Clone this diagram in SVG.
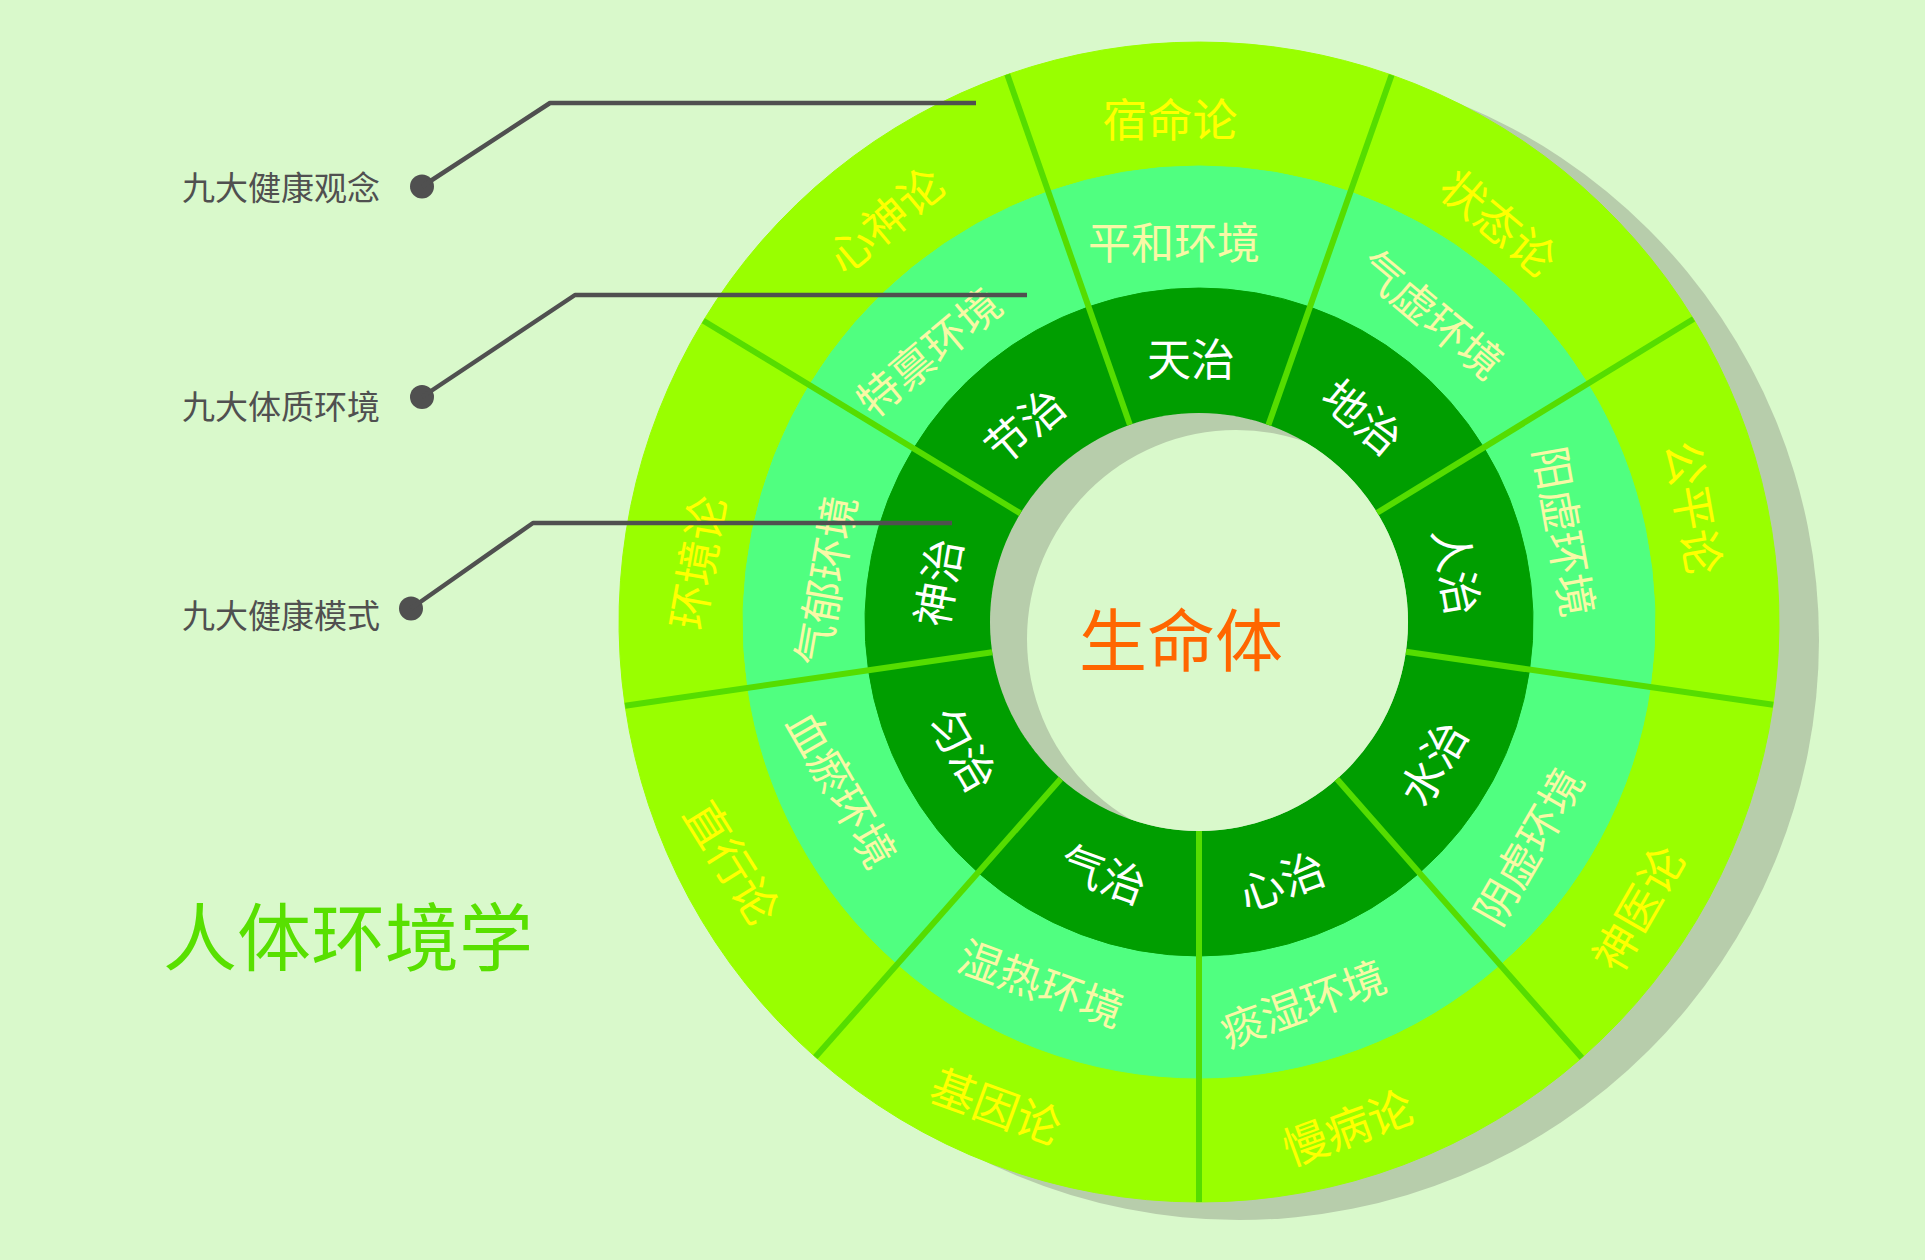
<svg xmlns="http://www.w3.org/2000/svg" width="1925" height="1260" viewBox="0 0 1925 1260">
<defs>
<style>
text{font-family:"Noto Sans CJK SC","Noto Sans",sans-serif;text-anchor:middle;dominant-baseline:central}
.o{fill:#99ff00;stroke:#99ff00;stroke-width:1}
.m{fill:#50ff80;stroke:#50ff80;stroke-width:1}
.i{fill:#009e00;stroke:#009e00;stroke-width:1}
.to{fill:#ffff00;font-size:45px}
.tm{fill:#f8f8a6;font-size:43px}
.ti{fill:#ffffff;font-size:44px}
.lbl{fill:#505050;font-size:33px;text-anchor:start}
.div{stroke:#55dd00;stroke-width:6;fill:none}
.lead{stroke:#505050;stroke-width:4.5;fill:none;stroke-linejoin:round}
.dot{fill:#505050}
</style>
<clipPath id="holeClip"><circle cx="1199" cy="622" r="209"/></clipPath>
</defs>
<rect width="1925" height="1260" fill="#d9f9cb"/>
<g id="ring-shadow"><circle cx="1239" cy="640" r="580" fill="#b7cdab"/></g>

<g id="outer-1"><path class="o" d="M1007.3,74.6 A580,580 0 0 1 1391.6,75.0 L1350.5,191.9 A456,456 0 0 0 1048.3,191.6 Z"/><text class="to" transform="translate(1170,117)">宿命论</text></g>
<g id="outer-2"><path class="o" d="M1391.6,75.0 A580,580 0 0 1 1693.5,319.0 L1587.8,383.7 A456,456 0 0 0 1350.5,191.9 Z"/><text class="to" transform="translate(1500,221) rotate(40)">状态论</text></g>
<g id="outer-3"><path class="o" d="M1693.5,319.0 A580,580 0 0 1 1773.1,704.7 L1650.3,687.0 A456,456 0 0 0 1587.8,383.7 Z"/><text class="to" transform="translate(1696,507) rotate(80)">公平论</text></g>
<g id="outer-4"><path class="o" d="M1773.1,704.7 A580,580 0 0 1 1581.8,1057.7 L1500.0,964.6 A456,456 0 0 0 1650.3,687.0 Z"/><text class="to" transform="translate(1636,907) rotate(-60)">神医论</text></g>
<g id="outer-5"><path class="o" d="M1581.8,1057.7 A580,580 0 0 1 1199,1202 L1199,1078 A456,456 0 0 0 1500.0,964.6 Z"/><text class="to" transform="translate(1347,1125) rotate(-20)">慢病论</text></g>
<g id="outer-6"><path class="o" d="M1199,1202 A580,580 0 0 1 815.4,1057.1 L897.4,964.1 A456,456 0 0 0 1199,1078 Z"/><text class="to" transform="translate(997,1104) rotate(20)">基因论</text></g>
<g id="outer-7"><path class="o" d="M815.4,1057.1 A580,580 0 0 1 625.1,705.7 L747.8,687.8 A456,456 0 0 0 897.4,964.1 Z"/><text class="to" transform="translate(734,861) rotate(58)">直行论</text></g>
<g id="outer-8"><path class="o" d="M625.1,705.7 A580,580 0 0 1 703.4,320.7 L809.4,385.1 A456,456 0 0 0 747.8,687.8 Z"/><text class="to" transform="translate(695,562) rotate(-80)">环境论</text></g>
<g id="outer-9"><path class="o" d="M703.4,320.7 A580,580 0 0 1 1007.3,74.6 L1048.3,191.6 A456,456 0 0 0 809.4,385.1 Z"/><text class="to" transform="translate(884,218) rotate(-40)">心神论</text></g>

<g id="middle-1"><path class="m" d="M1048.3,191.6 A456,456 0 0 1 1350.5,191.9 L1309.9,307.0 A334,334 0 0 0 1088.6,306.8 Z"/><text class="tm" transform="translate(1174,240)">平和环境</text></g>
<g id="middle-2"><path class="m" d="M1350.5,191.9 A456,456 0 0 1 1587.8,383.7 L1483.8,447.5 A334,334 0 0 0 1309.9,307.0 Z"/><text class="tm" transform="translate(1433,312) rotate(40)">气虚环境</text></g>
<g id="middle-3"><path class="m" d="M1587.8,383.7 A456,456 0 0 1 1650.3,687.0 L1529.6,669.6 A334,334 0 0 0 1483.8,447.5 Z"/><text class="tm" transform="translate(1567,531) rotate(80)">阳虚环境</text></g>
<g id="middle-4"><path class="m" d="M1650.3,687.0 A456,456 0 0 1 1500.0,964.6 L1419.4,872.9 A334,334 0 0 0 1529.6,669.6 Z"/><text class="tm" transform="translate(1526,845) rotate(-60)">阴虚环境</text></g>
<g id="middle-5"><path class="m" d="M1500.0,964.6 A456,456 0 0 1 1199,1078 L1199,956 A334,334 0 0 0 1419.4,872.9 Z"/><text class="tm" transform="translate(1302,1001) rotate(-20)">痰湿环境</text></g>
<g id="middle-6"><path class="m" d="M1199,1078 A456,456 0 0 1 897.4,964.1 L978.1,872.5 A334,334 0 0 0 1199,956 Z"/><text class="tm" transform="translate(1042,981) rotate(20)">湿热环境</text></g>
<g id="middle-7"><path class="m" d="M897.4,964.1 A456,456 0 0 1 747.8,687.8 L868.5,670.2 A334,334 0 0 0 978.1,872.5 Z"/><text class="tm" transform="translate(844,788) rotate(60)">血瘀环境</text></g>
<g id="middle-8"><path class="m" d="M747.8,687.8 A456,456 0 0 1 809.4,385.1 L913.6,448.5 A334,334 0 0 0 868.5,670.2 Z"/><text class="tm" transform="translate(823,580) rotate(-80)">气郁环境</text></g>
<g id="middle-9"><path class="m" d="M809.4,385.1 A456,456 0 0 1 1048.3,191.6 L1088.6,306.8 A334,334 0 0 0 913.6,448.5 Z"/><text class="tm" transform="translate(927,350) rotate(-40)">特禀环境</text></g>

<g id="inner-1"><path class="i" d="M1088.6,306.8 A334,334 0 0 1 1309.9,307.0 L1268.4,424.9 A209,209 0 0 0 1129.9,424.8 Z"/><text class="ti" transform="translate(1191,357)">天治</text></g>
<g id="inner-2"><path class="i" d="M1309.9,307.0 A334,334 0 0 1 1483.8,447.5 L1377.2,512.8 A209,209 0 0 0 1268.4,424.9 Z"/><text class="ti" transform="translate(1364,415) rotate(40)">地治</text></g>
<g id="inner-3"><path class="i" d="M1483.8,447.5 A334,334 0 0 1 1529.6,669.6 L1405.9,651.8 A209,209 0 0 0 1377.2,512.8 Z"/><text class="ti" transform="translate(1459,571) rotate(80)">人治</text></g>
<g id="inner-4"><path class="i" d="M1529.6,669.6 A334,334 0 0 1 1419.4,872.9 L1336.9,779.0 A209,209 0 0 0 1405.9,651.8 Z"/><text class="ti" transform="translate(1431,762) rotate(-60)">水治</text></g>
<g id="inner-5"><path class="i" d="M1419.4,872.9 A334,334 0 0 1 1199,956 L1199,831 A209,209 0 0 0 1336.9,779.0 Z"/><text class="ti" transform="translate(1281,879) rotate(-20)">心治</text></g>
<g id="inner-6"><path class="i" d="M1199,956 A334,334 0 0 1 978.1,872.5 L1060.8,778.8 A209,209 0 0 0 1199,831 Z"/><text class="ti" transform="translate(1104,872) rotate(20)">气治</text></g>
<g id="inner-7"><path class="i" d="M978.1,872.5 A334,334 0 0 1 868.5,670.2 L992.2,652.2 A209,209 0 0 0 1060.8,778.8 Z"/><text class="ti" transform="translate(965,748) rotate(60)">匀治</text></g>
<g id="inner-8"><path class="i" d="M868.5,670.2 A334,334 0 0 1 913.6,448.5 L1020.4,513.4 A209,209 0 0 0 992.2,652.2 Z"/><text class="ti" transform="translate(936,582) rotate(-80)">神治</text></g>
<g id="inner-9"><path class="i" d="M913.6,448.5 A334,334 0 0 1 1088.6,306.8 L1129.9,424.8 A209,209 0 0 0 1020.4,513.4 Z"/><text class="ti" transform="translate(1023,424) rotate(-40)">节治</text></g>

<g id="core">
<circle cx="1199" cy="622" r="209" fill="#b7cdab"/>
<circle cx="1236" cy="639" r="209" fill="#d9f9cb" clip-path="url(#holeClip)"/>
<text transform="translate(1181,636)" style="fill:#ff6600;font-size:68px">生命体</text>
</g>

<g id="dividers">
<line class="div" x1="1129.9" y1="424.8" x2="1007.3" y2="74.6"/>
<line class="div" x1="1268.4" y1="424.9" x2="1391.6" y2="75.0"/>
<line class="div" x1="1377.2" y1="512.8" x2="1693.5" y2="319.0"/>
<line class="div" x1="1405.9" y1="651.8" x2="1773.1" y2="704.7"/>
<line class="div" x1="1336.9" y1="779.0" x2="1581.8" y2="1057.7"/>
<line class="div" x1="1199" y1="831" x2="1199" y2="1202"/>
<line class="div" x1="1060.8" y1="778.8" x2="815.4" y2="1057.1"/>
<line class="div" x1="992.2" y1="652.2" x2="625.1" y2="705.7"/>
<line class="div" x1="1020.4" y1="513.4" x2="703.4" y2="320.7"/>
</g>

<g id="label-concepts"><text class="lbl" x="182" y="186">九大健康观念</text><circle class="dot" cx="422" cy="186.5" r="12"/></g>
<g id="label-constitution"><text class="lbl" x="182" y="405">九大体质环境</text><circle class="dot" cx="422" cy="397" r="12"/></g>
<g id="label-modes"><text class="lbl" x="182" y="614">九大健康模式</text><circle class="dot" cx="411" cy="608.5" r="12"/></g>
<g id="title"><text x="348" y="932" style="fill:#58e000;font-size:74px">人体环境学</text></g>

<g id="connectors">
<polyline class="lead" points="422,186.5 550,103 976,103"/>
<polyline class="lead" points="422,397 575,295 1027,295"/>
<polyline class="lead" points="411,608.5 533,523 952,523"/>
</g>
</svg>
